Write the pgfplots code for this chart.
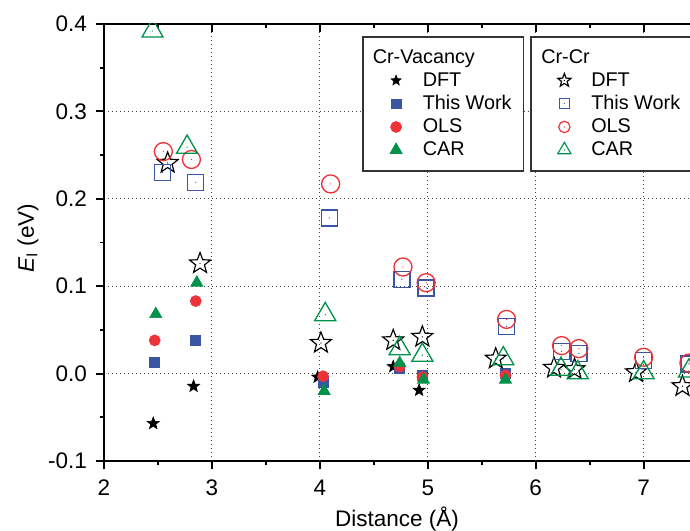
\documentclass[border=0pt]{standalone}
\usepackage{fontspec}
\setmainfont{Liberation Sans}
\usepackage{pgfplots}
\pgfplotsset{compat=1.18}
\usetikzlibrary{plotmarks}

\definecolor{cblue}{RGB}{59,85,165}
\definecolor{cred}{RGB}{237,50,56}
\definecolor{cgreen}{RGB}{0,146,74}

% five-pointed star path
\def\starpath{%
  \pgfpathmoveto{\pgfpointpolar{90}{\pgfplotmarksize}}%
  \pgfpathlineto{\pgfpointpolar{126}{0.42\pgfplotmarksize}}%
  \pgfpathlineto{\pgfpointpolar{162}{\pgfplotmarksize}}%
  \pgfpathlineto{\pgfpointpolar{198}{0.42\pgfplotmarksize}}%
  \pgfpathlineto{\pgfpointpolar{234}{\pgfplotmarksize}}%
  \pgfpathlineto{\pgfpointpolar{270}{0.42\pgfplotmarksize}}%
  \pgfpathlineto{\pgfpointpolar{306}{\pgfplotmarksize}}%
  \pgfpathlineto{\pgfpointpolar{342}{0.42\pgfplotmarksize}}%
  \pgfpathlineto{\pgfpointpolar{18}{\pgfplotmarksize}}%
  \pgfpathlineto{\pgfpointpolar{54}{0.42\pgfplotmarksize}}%
  \pgfpathclose}
\def\centredot{\pgfpathcircle{\pgfpointorigin}{0.4pt}\pgfusepathqfill}

\pgfdeclareplotmark{fstar}{\starpath\pgfusepathqfillstroke}
\pgfdeclareplotmark{ostar}{\starpath\pgfusepathqstroke\centredot}
\pgfdeclareplotmark{osquare}{%
  \pgfpathrectangle{\pgfpoint{-\pgfplotmarksize}{-\pgfplotmarksize}}%
    {\pgfpoint{2\pgfplotmarksize}{2\pgfplotmarksize}}%
  \pgfusepathqstroke\centredot}
\pgfdeclareplotmark{ocircle}{%
  \pgfpathcircle{\pgfpointorigin}{\pgfplotmarksize}\pgfusepathqstroke\centredot}
\pgfdeclareplotmark{otriangle}{%
  \pgfpathmoveto{\pgfpointpolar{90}{\pgfplotmarksize}}%
  \pgfpathlineto{\pgfpointpolar{210}{\pgfplotmarksize}}%
  \pgfpathlineto{\pgfpointpolar{330}{\pgfplotmarksize}}%
  \pgfpathclose\pgfusepathqstroke\centredot}

\pgfplotsset{
  frame/.style={
    scale only axis, width=351.6pt, height=262.2pt,
    xmin=2, xmax=7.43, ymin=-0.1, ymax=0.4,
    clip marker paths=true,
    axis line style={line width=1.5pt, black},
    major tick length=5pt, minor tick length=2.6pt,
    every tick/.style={line width=1.1pt, black},
    xtick={2,3,4,5,6,7}, minor xtick={2.5,3.5,4.5,5.5,6.5},
  },
  legendbox/.style={
    legend style={
      at={(rel axis cs:#1,0.9725)}, anchor=north west,
      draw=black!80, line width=0.9pt,
      inner xsep=5pt, inner ysep=5.6pt,
      row sep=0pt, column sep=2pt,
      cells={anchor=west},
      font=\fontsize{11.9}{13}\selectfont,
    },
    legend image code/.code={%
      \path (0pt,0pt) (26.6pt,0pt);
      \draw[##1] plot coordinates {(14.8pt,0pt)};},
  },
}

\begin{document}
\begin{tikzpicture}
% Cr-Vacancy pairs (filled symbols), left and bottom axes
\begin{axis}[frame, name=A,
    axis x line*=bottom, axis y line*=left,
    tick align=outside,
    ytick={-0.1,0,0.1,0.2,0.3,0.4},
    minor ytick={-0.05,0.05,0.15,0.25,0.35},
    xticklabels={2,3,4,5,6,7},
    yticklabels={-0.1,0.0,0.1,0.2,0.3,0.4},
    xticklabel style={font=\fontsize{13.5}{15}\selectfont, anchor=north, inner sep=0pt, yshift=-6pt},
    yticklabel style={font=\fontsize{13.5}{15}\selectfont, anchor=east, inner sep=0pt, xshift=-5pt},
    grid=major,
    grid style={line width=0.6pt, black!75, dash pattern=on 0.6pt off 1.8pt},
    xlabel={Distance (Å)},
    ylabel={\textit{E}\textsubscript{I} (eV)},
    every axis x label/.style={at={(axis description cs:0.5,-0.151)}, anchor=base,
      font=\fontsize{13.5}{15}\selectfont},
    every axis y label/.style={at={(axis description cs:-0.1297,0.51)}, anchor=center, rotate=90,
      font=\fontsize{13.5}{15}\selectfont},
    legendbox=0.4403,
  ]
  \addlegendimage{empty legend}
  \addlegendentry{\hspace*{-30pt}Cr-Vacancy}
  \addlegendimage{only marks, mark=fstar, mark size=3.2pt, black, line width=0.4pt}
  \addlegendentry{DFT}
  \addlegendimage{only marks, mark=square*, mark size=2.9pt, cblue, line width=0.4pt}
  \addlegendentry{This Work}
  \addlegendimage{only marks, mark=*, mark size=3.3pt, cred, line width=0.4pt}
  \addlegendentry{OLS}
  \addlegendimage{only marks, mark=triangle*, mark size=4.2pt, cgreen, line width=0.4pt}
  \addlegendentry{CAR}

  \addplot[forget plot, only marks, mark=fstar, mark size=3.8pt, black, line width=0.4pt]
    coordinates {(2.456,-0.057) (2.83,-0.0145) (3.98,-0.004) (4.68,0.008) (4.92,-0.019)};
  \addplot[forget plot, only marks, mark=square*, mark size=3.0pt, cblue, line width=0.4pt]
    coordinates {(2.47,0.013) (2.85,0.038) (4.03,-0.010) (4.74,0.006) (4.95,-0.002) (5.72,0.000)};
  \addplot[forget plot, only marks, mark=*, mark size=3.3pt, cred, line width=0.4pt]
    coordinates {(2.47,0.038) (2.85,0.083) (4.03,-0.003) (4.74,0.008) (4.95,-0.004) (5.72,-0.002)};
  \addplot[forget plot, only marks, mark=triangle*, mark size=4.2pt, cgreen, line width=0.4pt]
    coordinates {(2.48,0.068) (2.86,0.104) (4.04,-0.020) (4.74,0.012) (4.96,-0.007) (5.72,-0.007)};
\end{axis}

% Cr-Cr pairs (open symbols), top axis
\begin{axis}[frame,
    axis x line*=top, axis y line=none,
    tick align=inside,
    xticklabels={},
    legendbox=0.727,
  ]
  \addlegendimage{empty legend}
  \addlegendentry{\hspace*{-30pt}Cr-Cr}
  \addlegendimage{only marks, mark=ostar, mark size=4.2pt, black, line width=0.7pt}
  \addlegendentry{DFT}
  \addlegendimage{only marks, mark=osquare, mark size=3.1pt, cblue, line width=0.7pt}
  \addlegendentry{This Work}
  \addlegendimage{only marks, mark=ocircle, mark size=3.4pt, cred, line width=0.7pt}
  \addlegendentry{OLS}
  \addlegendimage{only marks, mark=otriangle, mark size=4.6pt, cgreen, line width=0.7pt}
  \addlegendentry{CAR}

  \addplot[forget plot, only marks, mark=ostar, mark size=6.6pt, black, line width=0.7pt]
    coordinates {(2.59,0.241) (2.89,0.126) (4.01,0.035) (4.68,0.038) (4.95,0.042)
                 (5.63,0.017) (6.17,0.0065) (6.36,0.005) (6.93,0.0015) (7.36,-0.0145)};
  \addplot[forget plot, only marks, mark=osquare, mark size=4.8pt, cblue, line width=0.8pt]
    coordinates {(2.54,0.230) (2.85,0.219) (4.09,0.178) (4.76,0.108) (4.985,0.098)
                 (5.73,0.054) (6.24,0.0255) (6.40,0.023) (7.00,0.015) (7.42,0.011)};
  \addplot[forget plot, only marks, mark=ocircle, mark size=5.4pt, cred, line width=0.8pt]
    coordinates {(2.55,0.254) (2.81,0.245) (4.10,0.217) (4.77,0.122) (4.985,0.104)
                 (5.73,0.062) (6.24,0.032) (6.40,0.0286) (7.00,0.0187) (7.42,0.012)};
  \addplot[forget plot, only marks, mark=otriangle, mark size=7.3pt, cgreen, line width=0.8pt]
    coordinates {(2.45,0.392) (2.77,0.259) (4.05,0.0675) (4.74,0.0286) (4.95,0.021)
                 (5.70,0.017) (6.235,0.005) (6.39,0.001) (7.00,0.001) (7.42,0.003)};
\end{axis}

\pgfresetboundingbox
\path[use as bounding box] (A.south west) ++(-62.4pt,-41.4pt) rectangle ++(414pt,318pt);
\end{tikzpicture}
\end{document}
